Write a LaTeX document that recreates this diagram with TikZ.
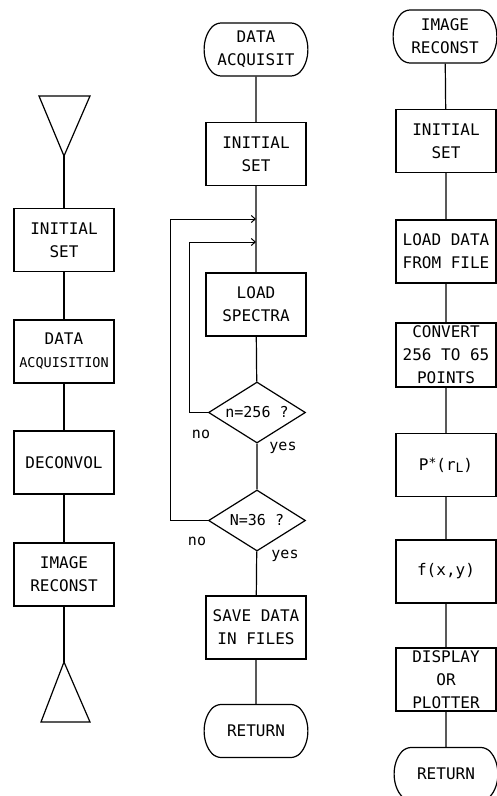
\documentclass[tikz,border=0pt]{standalone}
\usepackage{fontspec}
\newfontfamily\plotfont{DejaVu Sans Mono}
\usetikzlibrary{arrows.meta, shapes.geometric, shapes.misc}

\begin{document}
\begin{tikzpicture}[x=1pt, y=-1pt, line width=1.2pt,
  procbox/.style={draw, rectangle, minimum width=100pt, minimum height=63pt,
    inner sep=0pt, align=center, font=\plotfont\fontsize{16}{23}\selectfont},
  termbox/.style={draw, rounded rectangle, rounded rectangle arc length=90,
    rounded corners=5pt,
    minimum width=102pt, minimum height=53pt, inner sep=0pt, align=center,
    font=\plotfont\fontsize{16}{23}\selectfont},
  decbox/.style={draw, diamond, minimum width=97pt, minimum height=61pt,
    inner sep=0pt},
  anno/.style={font=\plotfont\fontsize{15}{18}\selectfont},
  loop/.style={-{Straight Barb[length=4pt, width=7pt]}, line width=1pt}]
  \clip (0,0) rectangle (497,796);

  % left column: main program
  \draw (39,96) -- (90,96) -- (64,156) -- cycle;
  \coordinate (topA) at (64,156);
  \node[procbox] (initA) at (64,240) {INITIAL\\SET};
  \node[procbox] (acqA) at (64,351.5) {DATA\\{\fontsize{13.5}{18}\selectfont ACQUISITION}};
  \node[procbox] (deconA) at (64,462.5) {DECONVOL};
  \node[procbox] (imgA) at (64,574.5) {IMAGE\\RECONST};
  \draw (64,662) -- (41,722) -- (90,722) -- cycle;
  \coordinate (botA) at (64,662);
  \draw (topA) -- (initA) -- (acqA) -- (deconA) -- (imgA) -- (botA);

  % middle column: data acquisition
  \node[termbox] (acqB) at (256,49.5) {DATA\\ACQUISIT};
  \node[procbox] (initB) at (256,154) {INITIAL\\SET};
  \node[procbox] (loadB) at (256,304.5) {LOAD\\SPECTRA};
  \node[decbox, label={[anno]center:n=256 ?}] (decn) at (257,412.5) {};
  \node[decbox, label={[anno]center:N=36 ?}] (decN) at (257,520.5) {};
  \node[procbox] (saveB) at (256,627.5) {SAVE DATA\\IN FILES};
  \node[termbox] (retB) at (256,731) {RETURN};
  \draw (acqB) -- (initB) -- (loadB);
  \draw (loadB) -- (decn) -- (decN) -- (saveB) -- (retB);

  % loops back to the main line
  \coordinate (joinO) at (256,219);
  \coordinate (joinI) at (256,242);
  \draw[loop] (decN.west) -- ++(-37,0) |- (joinO);
  \draw[loop] (decn.west) -- ++(-18,0) |- (joinI);
  \node[anno] (non) at (201,434) {no};
  \node[anno] (yesn) at (283,448) {yes};
  \node[anno] (noN) at (197,541) {no};
  \node[anno] (yesN) at (285,556) {yes};

  % right column: image reconstruction
  \node[termbox] (imgC) at (445,36.5) {IMAGE\\RECONST};
  \node[procbox] (initC) at (446,141) {INITIAL\\SET};
  \node[procbox] (loadC) at (446,251.5) {LOAD DATA\\FROM FILE};
  \node[procbox, minimum height=64pt] (convC) at (446,355)
    {CONVERT\\256 TO 65\\POINTS};
  \node[procbox] (pC) at (446,465)
    {P\raisebox{3pt}{\fontsize{13}{13}\selectfont*}(r\raisebox{-2pt}{\fontsize{13}{13}\selectfont L})};
  \node[procbox] (fC) at (446,571.5) {f(x,y)};
  \node[procbox] (dispC) at (446,679.5) {DISPLAY\\OR\\PLOTTER};
  \node[termbox] (retC) at (446,774) {RETURN};
  \draw (imgC) -- (initC) -- (loadC) -- (convC) -- (pC) -- (fC) -- (dispC) -- (retC);
\end{tikzpicture}
\end{document}
